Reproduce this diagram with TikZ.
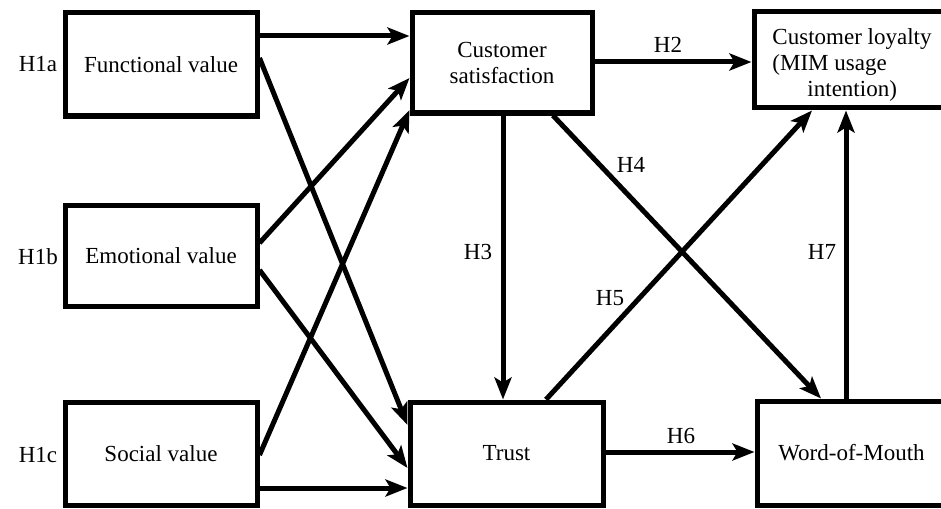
\documentclass[tikz,border=0pt]{standalone}
\usepackage{fontspec}
\setmainfont{Liberation Serif}
\usetikzlibrary{arrows.meta}
\begin{document}
\begin{tikzpicture}[x=1pt,y=-1pt,
  box/.style={draw=black,line width=5pt,fill=white,inner sep=2pt,align=center,
    font=\fontsize{23}{26}\selectfont},
  conn/.style={line width=5pt,-{Stealth[length=22pt,width=17pt,inset=5pt]}},
  hlab/.style={font=\fontsize{23}{26}\selectfont,inner sep=0pt}]
\useasboundingbox (0,0) rectangle (941,508);
\clip (0,0) rectangle (941,508);
\fill[white] (0,0) rectangle (941,508);
% boxes
\node[box,minimum width=192pt,minimum height=103pt] (F) at (161,64.5) {Functional value};
\node[box,minimum width=192pt,minimum height=101pt] (E) at (161,255.5) {Emotional value};
\node[box,minimum width=192pt,minimum height=103pt] (S) at (161,453.5) {Social value};
\node[box,minimum width=180pt,minimum height=100pt] (CS) at (502,63) {Customer\\satisfaction};
\node[box,minimum width=193pt,minimum height=103pt] (T) at (506.5,453.5) {Trust};
\node[box,minimum width=196pt,minimum height=96pt] (CL) at (852,60) {\raisebox{-12pt}[0pt][0pt]{\begin{tabular}{@{}l@{}}Customer loyalty\\(MIM usage\\\hspace*{35pt}intention)\end{tabular}}};
\node[box,minimum width=189pt,minimum height=104pt] (W) at (851.5,453) {Word-of-Mouth};
% connectors
\draw[conn] ([yshift=28.5pt]F.east) -- ([yshift=27pt]CS.west);
\draw[conn] ([yshift=12.5pt]E.east) -- ([yshift=-15pt]CS.west);
\draw[conn] ([yshift=-1.5pt]S.east) -- ([yshift=-47pt]CS.west);
\draw[conn] ([yshift=6.5pt]F.east) -- ([yshift=28.5pt]T.west);
\draw[conn] ([yshift=-14.5pt]E.east) -- ([yshift=-14.5pt]T.west);
\draw[conn] ([yshift=-34.5pt]S.east) -- ([yshift=-34.5pt]T.west);
\draw[conn] ([xshift=1pt]CS.south) -- ([xshift=-3.5pt]T.north);
\draw[conn] ([xshift=51pt]CS.south) -- ([xshift=-30.5pt]W.north);
\draw[conn] ([xshift=39.5pt]T.north) -- ([xshift=-40pt]CL.south);
\draw[conn] ([xshift=-5.5pt]W.north) -- ([xshift=-6pt]CL.south);
\draw[conn] ([yshift=1pt]CS.east) -- ([yshift=-2pt]CL.west);
\draw[conn] ([yshift=1.5pt]T.east) -- ([yshift=1pt]W.west);
% labels
\node[hlab] (l1a) at (38,64) {H1a};
\node[hlab] (l1b) at (38,257) {H1b};
\node[hlab] (l1c) at (38,455) {H1c};
\node[hlab] (l2) at (668,45) {H2};
\node[hlab] (l3) at (478,252) {H3};
\node[hlab] (l4) at (631,165) {H4};
\node[hlab] (l5) at (610,298) {H5};
\node[hlab] (l6) at (681,436) {H6};
\node[hlab] (l7) at (822,252) {H7};
\end{tikzpicture}
\end{document}
